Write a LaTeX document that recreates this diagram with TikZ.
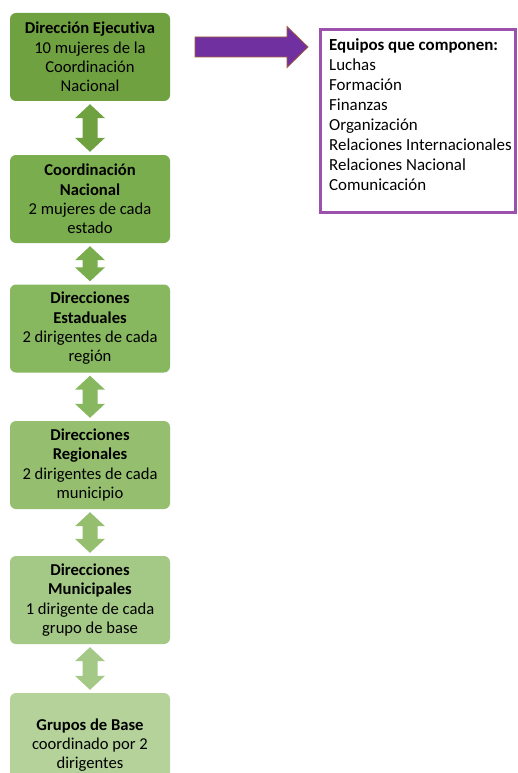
\documentclass[tikz,border=0pt]{standalone}
\usepackage{fontspec}
\setmainfont{Carlito}[Ligatures=NoCommon]
\usetikzlibrary{calc}
\definecolor{g1}{HTML}{70A141}
\definecolor{g2}{HTML}{7AAD4D}
\definecolor{g3}{HTML}{87B75E}
\definecolor{g4}{HTML}{95BF6F}
\definecolor{g5}{HTML}{A4C885}
\definecolor{g6}{HTML}{B4D29A}
\definecolor{pfill}{HTML}{7030A0}
\definecolor{pedge}{HTML}{A0603C}
\definecolor{pbord}{HTML}{9C52AC}
\tikzset{
  gbox/.style={rounded corners=6pt, inner sep=0pt, minimum width=160pt, minimum height=88pt,
    align=center, text=black, font=\fontsize{16.6}{19.3}\selectfont},
  pbox/.style={draw=pbord, line width=3pt, inner sep=0pt, minimum width=195pt, minimum height=182pt},
  ptext/.style={anchor=north west, inner sep=0pt, align=left, font=\fontsize{16.9}{20}\selectfont}
}
\newcommand{\dblarr}[3]{%
  \fill[#3] let \p1=(#1.south), \p2=(#2.north) in
   (\x1,\y1-3pt) -- (\x1+15pt,\y1-17pt) -- (\x1+7.5pt,\y1-17pt) -- (\x1+7.5pt,\y2+17pt)
   -- (\x1+15pt,\y2+17pt) -- (\x1,\y2+3pt) -- (\x1-15pt,\y2+17pt) -- (\x1-7.5pt,\y2+17pt)
   -- (\x1-7.5pt,\y1-17pt) -- (\x1-15pt,\y1-17pt) -- cycle;}
\begin{document}
\begin{tikzpicture}[x=1pt,y=-1pt]
\useasboundingbox (0,0) rectangle (518,773);
\clip (0,0) rectangle (518,773);
\fill[white] (0,0) rectangle (518,773);
\node[gbox, fill=g1] (b1) at (90,57) {\textbf{Dirección Ejecutiva}\\10 mujeres de la\\Coordinación\\Nacional};
\node[gbox, fill=g2] (b2) at (90,199) {\textbf{Coordinación}\\\textbf{Nacional}\\2 mujeres de cada\\estado};
\node[gbox, fill=g3] (b3) at (90,328.5) {\textbf{Direcciones}\\\textbf{Estaduales}\\2 dirigentes de cada\\región};
\node[gbox, fill=g4] (b4) at (90,465) {\textbf{Direcciones}\\\textbf{Regionales}\\2 dirigentes de cada\\municipio};
\node[gbox, fill=g5] (b5) at (90,600) {\textbf{Direcciones}\\\textbf{Municipales}\\1 dirigente de cada\\grupo de base};
\node[gbox, fill=g6, minimum height=104pt] (b6) at (90,745) {\textbf{Grupos de Base}\\coordinado por 2\\dirigentes};
\dblarr{b1}{b2}{g1}
\dblarr{b2}{b3}{g2}
\dblarr{b3}{b4}{g3}
\dblarr{b4}{b5}{g4}
\dblarr{b5}{b6}{g5}
\node[pbox] (pb) at (418,121) {};
\node[ptext] (pt) at (329,38.5) {\textbf{Equipos que componen:}\\Luchas\\Formación\\Finanzas\\Organización\\Relaciones Internacionales\\Relaciones Nacional\\Comunicación};
\coordinate (ps) at (195,47);
\filldraw[fill=pfill, draw=pedge, line width=0.8pt] let \p1=(ps), \p2=($(pb.west)+(-11pt,0pt)$) in
  (\x1,\y1+10pt) -- (\x2-21pt,\y1+10pt) -- (\x2-21pt,\y1+20.5pt) -- (\x2,\y1)
  -- (\x2-21pt,\y1-20.5pt) -- (\x2-21pt,\y1-10pt) -- (\x1,\y1-10pt) -- cycle;
\end{tikzpicture}
\end{document}
